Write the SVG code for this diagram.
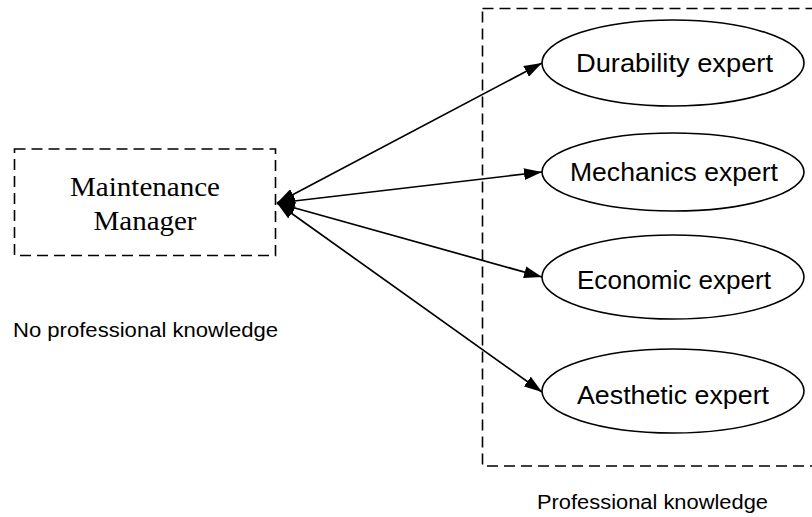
<svg xmlns="http://www.w3.org/2000/svg" width="812" height="517" viewBox="0 0 812 517">
  <style>
    .frame { fill: none; stroke: #000; stroke-width: 1.6; stroke-dasharray: 11 6; }
    .expert { fill: #fff; stroke: #000; stroke-width: 1.6; }
    .expert-label { font-family: "Liberation Sans", Arial, sans-serif; font-size: 25px; fill: #000; text-anchor: middle; }
    .mgr-label { font-family: "Liberation Serif", "Times New Roman", serif; font-size: 27px; fill: #000; text-anchor: middle; }
    .caption { font-family: "Liberation Sans", Arial, sans-serif; font-size: 20px; fill: #000; }
    .link { fill: none; stroke: #000; stroke-width: 1.7; marker-start: url(#head); marker-end: url(#head); }
  </style>
  <defs>
    <marker id="head" viewBox="0 0 18 12" refX="18" refY="6" markerWidth="18" markerHeight="12" markerUnits="userSpaceOnUse" orient="auto-start-reverse">
      <path d="M0,0 L18,6 L0,12 Z" fill="#000"/>
    </marker>
  </defs>

  <rect width="812" height="517" fill="#fff"/>

  <!-- expert panel -->
  <g id="expert-panel">
    <rect class="frame" x="482.5" y="8.5" width="340" height="457.5"/>
    <text class="caption" x="537" y="509" textLength="231" lengthAdjust="spacingAndGlyphs">Professional knowledge</text>
  </g>

  <!-- manager -->
  <g id="manager">
    <rect class="frame" x="14.5" y="149" width="261" height="106.5"/>
    <text class="mgr-label" x="145" y="196" textLength="150" lengthAdjust="spacingAndGlyphs">Maintenance</text>
    <text class="mgr-label" x="145" y="230" textLength="103" lengthAdjust="spacingAndGlyphs">Manager</text>
    <text class="caption" x="13" y="337" textLength="265" lengthAdjust="spacingAndGlyphs">No professional knowledge</text>
  </g>

  <!-- connectors -->
  <g id="connectors">
    <line class="link" x1="277" y1="203" x2="542" y2="63"/>
    <line class="link" x1="277" y1="203" x2="542" y2="172"/>
    <line class="link" x1="277" y1="203" x2="542" y2="277"/>
    <line class="link" x1="277" y1="203" x2="542" y2="392"/>
  </g>

  <g id="durability-expert">
    <ellipse class="expert" cx="673" cy="63" rx="131" ry="43"/>
    <text class="expert-label" x="674.5" y="72" textLength="197" lengthAdjust="spacingAndGlyphs">Durability expert</text>
  </g>
  <g id="mechanics-expert">
    <ellipse class="expert" cx="673" cy="172" rx="131" ry="39"/>
    <text class="expert-label" x="674" y="181" textLength="208" lengthAdjust="spacingAndGlyphs">Mechanics expert</text>
  </g>
  <g id="economic-expert">
    <ellipse class="expert" cx="673" cy="277" rx="131" ry="42"/>
    <text class="expert-label" x="674" y="289" textLength="194" lengthAdjust="spacingAndGlyphs">Economic expert</text>
  </g>
  <g id="aesthetic-expert">
    <ellipse class="expert" cx="673" cy="391" rx="131" ry="42"/>
    <text class="expert-label" x="673" y="404" textLength="192" lengthAdjust="spacingAndGlyphs">Aesthetic expert</text>
  </g>
</svg>
